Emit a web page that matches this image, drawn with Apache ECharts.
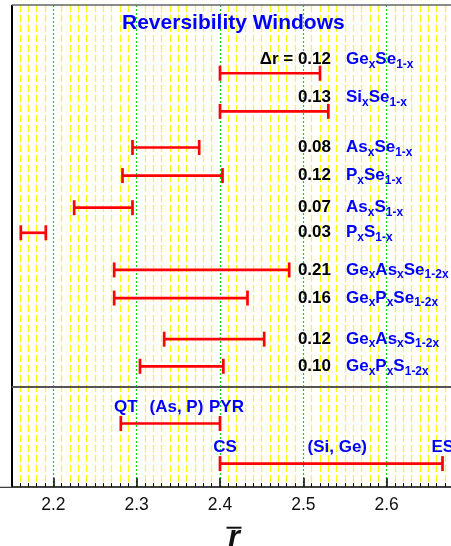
<!DOCTYPE html>
<html>
<head>
<meta charset="utf-8">
<script src="https://cdn.jsdelivr.net/npm/echarts@6/dist/echarts.min.js"></script>
<style>
  html, body { margin: 0; padding: 0; background: #fff; }
  #chart { width: 451px; height: 546px; }
</style>
</head>
<body>
<div id="chart"></div>
<script>
// Reversibility windows of chalcogenide glass families, in mean coordination number r
const formulas = ['Ge{x}Se{1-x}', 'Si{x}Se{1-x}', 'As{x}Se{1-x}', 'P{x}Se{1-x}', 'As{x}S{1-x}',
                  'P{x}S{1-x}', 'Ge{x}As{x}Se{1-2x}', 'Ge{x}P{x}Se{1-2x}', 'Ge{x}As{x}S{1-2x}', 'Ge{x}P{x}S{1-2x}'];
const windowStart = [2.40, 2.40, 2.295, 2.283, 2.225, 2.161, 2.273, 2.273, 2.333, 2.304];
const windowWidth = [0.12, 0.13, 0.08, 0.12, 0.07, 0.03, 0.21, 0.16, 0.12, 0.10];
const rowLevel = [3.4, 5.3, 7.1, 8.5, 10.1, 11.35, 13.2, 14.6, 16.65, 18.0];

// Network phase sequences along r
const phaseNames = [['QT', '(As, P)', 'PYR'], ['CS', '(Si, Ge)', 'ES']];
const phaseStart = [2.281, 2.40];
const phaseEnd = [2.40, 2.667];
const phaseLevel = [20.85, 22.85];

const X_MIN = 2.1, X_MAX = 2.7, X_EDGE = 2.15;
const Y_MAX = 24, DIVIDER = 19;

const FONT = '"Liberation Sans", Arial, Helvetica, sans-serif';
const BLUE = '#0000ff';
const RED = '#ff0000';
const VALUE_COL = 2.5332;    // right edge of the Δr column
const FORMULA_COL = 2.5512;  // left edge of the composition column

function richFormula(f) {
  return f.replace(/([^{}]+)|\{([^}]*)\}/g, (m, main, sub) =>
    main !== undefined ? '{m|' + main + '}' : '{s|' + sub + '}');
}

const FORMULA_RICH = {
  m: { fontSize: 17, fontWeight: 'bold', fontFamily: FONT, fill: BLUE, verticalAlign: 'middle' },
  s: { fontSize: 12, fontWeight: 'bold', fontFamily: FONT, fill: BLUE, verticalAlign: 'middle', padding: [10, 0, 0, 0] }
};

function barShapes(api, lo, hi, level) {
  const p1 = api.coord([lo, level]);
  const p2 = api.coord([hi, level]);
  const y = p1[1], cap = 7.5;
  const st = { stroke: RED, lineWidth: 2.7 };
  return [
    { type: 'line', shape: { x1: p1[0], y1: y, x2: p2[0], y2: y }, style: st },
    { type: 'line', shape: { x1: p1[0], y1: y - cap, x2: p1[0], y2: y + cap }, style: st },
    { type: 'line', shape: { x1: p2[0], y1: y - cap, x2: p2[0], y2: y + cap }, style: st }
  ];
}

function textEl(x, y, text, align, extra) {
  return {
    type: 'text',
    style: Object.assign({
      x: x, y: y, text: text,
      align: align, verticalAlign: 'middle',
      textAlign: align, textVerticalAlign: 'middle',
      fontSize: 17, fontWeight: 'bold', fontFamily: FONT, fill: '#000'
    }, extra || {})
  };
}

const windowData = windowStart.map((lo, i) => [lo, +(lo + windowWidth[i]).toFixed(3), rowLevel[i], i]);
const phaseData = phaseStart.map((lo, i) => [lo, phaseEnd[i], phaseLevel[i], i]);

function renderWindow(params, api) {
  const i = api.value(3);
  const level = api.value(2);
  const children = barShapes(api, api.value(0), api.value(1), level);
  const y = api.coord([X_EDGE, level])[1] - (i < 2 ? 14 : 0);
  const vx = api.coord([VALUE_COL, level])[0];
  const fx = api.coord([FORMULA_COL, level])[0];
  children.push(textEl(vx, y, (i === 0 ? 'Δr = ' : '') + windowWidth[i].toFixed(2), 'right'));
  children.push(textEl(fx, y, richFormula(formulas[i]), 'left', { rich: FORMULA_RICH, fill: BLUE }));
  return { type: 'group', children: children };
}

function renderPhase(params, api) {
  const i = api.value(3);
  const lo = api.value(0), hi = api.value(1), level = api.value(2);
  const children = barShapes(api, lo, hi, level);
  const p1 = api.coord([lo, level]);
  const p2 = api.coord([hi, level]);
  const y = p1[1] - 16.5;
  const names = phaseNames[i];
  const blue = { fill: BLUE };
  children.push(textEl(p1[0] + 5, y, names[0], 'center', blue));
  children.push(textEl((p1[0] + p2[0]) / 2 + 6, y, names[1], 'center', blue));
  children.push(textEl(p2[0] - 11, y, names[2], 'left', blue));
  return { type: 'group', children: children };
}

const chart = echarts.init(document.getElementById('chart'), null, { renderer: 'canvas' });

chart.setOption({
  animation: false,
  backgroundColor: '#fff',
  title: {
    text: 'Reversibility Windows',
    left: 122, top: 13, padding: 0,
    textStyle: { fontSize: 21, fontWeight: 'bold', color: BLUE, fontFamily: FONT }
  },
  grid: { left: -30, top: 5, width: 500, height: 481.7, containLabel: false, outerBoundsMode: 'none' },
  xAxis: {
    type: 'value', min: X_MIN, max: X_MAX, interval: 0.1,
    axisLine: { show: true, onZero: false, lineStyle: { color: '#000', width: 1.5 } },
    axisTick: { show: true, inside: true, length: 9, lineStyle: { color: '#000', width: 1.5 } },
    minorTick: { show: true, splitNumber: 10, length: 3.5, lineStyle: { color: '#000', width: 1 } },
    splitLine: { show: true, lineStyle: { color: '#00dd00', type: [2, 2], width: 1.2 } },
    minorSplitLine: { show: true, lineStyle: { color: '#ffff00', type: [7, 3], width: 1.2 } },
    axisLabel: {
      margin: 9, fontSize: 17.5, color: '#111', fontFamily: FONT,
      formatter: v => v.toFixed(1)
    },
    name: '{bar| }\n{r|r}',
    nameLocation: 'middle',
    nameGap: 40,
    nameTextStyle: {
      padding: [0, 0, 0, 28],
      rich: {
        bar: { width: 15, height: 2, lineHeight: 2, fontSize: 1, backgroundColor: '#111' },
        r: { fontSize: 30, fontStyle: 'italic', fontWeight: 'bold', fontFamily: FONT, color: '#111', lineHeight: 18 }
      }
    }
  },
  yAxis: { type: 'value', min: 0, max: Y_MAX, inverse: true, show: false, splitLine: { show: false } },
  series: [
    {
      name: 'frame', type: 'line', data: [], z: 1, silent: true,
      markArea: {
        silent: true,
        itemStyle: { color: '#fff' },
        data: [[{ xAxis: X_MIN }, { xAxis: X_EDGE }]]
      },
      markLine: {
        silent: true, symbol: ['none', 'none'], label: { show: false },
        data: [
          [{ coord: [X_EDGE, 0], lineStyle: { color: '#000', width: 2, type: 'solid' } }, { coord: [X_EDGE, Y_MAX] }],
          [{ coord: [X_EDGE, 0], lineStyle: { color: '#666', width: 1.5, type: 'solid' } }, { coord: [X_MAX, 0] }],
          [{ coord: [X_EDGE, DIVIDER], lineStyle: { color: '#555', width: 2, type: 'solid' } }, { coord: [X_MAX, DIVIDER] }]
        ]
      }
    },
    {
      name: 'windows', type: 'custom', z: 3, silent: true,
      renderItem: renderWindow,
      encode: { x: [0, 1], y: 2 },
      data: windowData
    },
    {
      name: 'phases', type: 'custom', z: 3, silent: true,
      renderItem: renderPhase,
      encode: { x: [0, 1], y: 2 },
      data: phaseData
    }
  ]
});
</script>
</body>
</html>
